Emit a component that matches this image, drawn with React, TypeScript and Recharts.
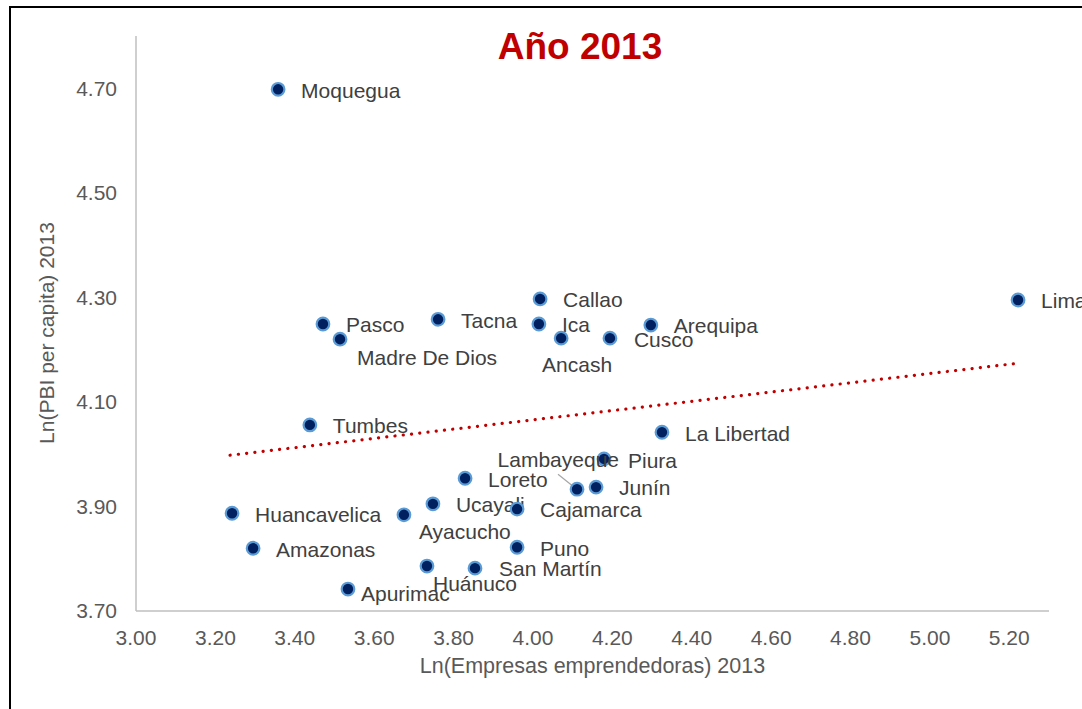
import React from "react";
import { ScatterChart, Scatter, XAxis, YAxis, ReferenceLine } from "recharts";

const regions = [
  "Moquegua", "Pasco", "Madre De Dios", "Tacna", "Callao", "Ica", "Ancash", "Cusco",
  "Arequipa", "Lima", "Tumbes", "La Libertad", "Piura", "Lambayeque", "Junín", "Loreto",
  "Ucayali", "Cajamarca", "Huancavelica", "Ayacucho", "Amazonas", "Puno", "Huánuco",
  "San Martín", "Apurimac",
];
const lnEmpresas = [
  3.358, 3.471, 3.514, 3.761, 4.018, 4.015, 4.071, 4.194,
  4.297, 5.222, 3.438, 4.325, 4.179, 4.111, 4.159, 3.829,
  3.748, 3.960, 3.242, 3.675, 3.295, 3.960, 3.733,
  3.854, 3.534,
];
const lnPbi = [
  4.698, 4.249, 4.220, 4.258, 4.297, 4.249, 4.222, 4.222,
  4.247, 4.295, 4.056, 4.042, 3.991, 3.933, 3.937, 3.954,
  3.905, 3.895, 3.887, 3.884, 3.820, 3.822, 3.786,
  3.782, 3.742,
];
const xTicks = [3.0, 3.2, 3.4, 3.6, 3.8, 4.0, 4.2, 4.4, 4.6, 4.8, 5.0, 5.2];
const yTicks = [3.7, 3.9, 4.1, 4.3, 4.5, 4.7];
const trendX = [3.237, 5.222];
const trendY = [3.998, 4.174];

const data = regions.map((name, i) => ({ name, x: lnEmpresas[i], y: lnPbi[i] }));

// label placement relative to the point (px)
const labelPos: Record<string, { dx: number; dy: number; anchor?: string; leader?: boolean }> = {
  "Madre De Dios": { dx: 17, dy: 18 },
  Ancash: { dx: 16, dy: 27, anchor: "middle" },
  Cusco: { dx: 24, dy: 2 },
  Lambayeque: { dx: 42, dy: -30, anchor: "end", leader: true },
  Ayacucho: { dx: 15, dy: 17 },
  "Huánuco": { dx: 6, dy: 18 },
  Apurimac: { dx: 13, dy: 5 },
  Piura: { dx: 24, dy: 2 },
  "San Martín": { dx: 24, dy: 1 },
};

const FONT = "'Liberation Sans', Arial, sans-serif";

const PointShape = (props: any) => {
  const { cx, cy, payload } = props;
  if (cx == null || cy == null) return null;
  const p = labelPos[payload.name] || { dx: 23, dy: 1 };
  return (
    <g>
      {p.leader && (
        <line x1={cx - 19} y1={cy - 15} x2={cx - 4} y2={cy - 3} stroke="#A6A6A6" strokeWidth={1.2} />
      )}
      <circle cx={cx} cy={cy} r={6.3} fill="#002060" stroke="#5B9BD5" strokeWidth={2.2} />
      <text
        x={cx + p.dx}
        y={cy + p.dy}
        dy="0.35em"
        textAnchor={(p.anchor as any) || "start"}
        fontFamily={FONT}
        fontSize={21}
        fill="#404040"
      >
        {payload.name}
      </text>
    </g>
  );
};

export default function App() {
  return (
    <div style={{ position: "absolute", left: 0, top: 0, width: 1082, height: 709, overflow: "hidden", background: "#fff" }}>
      <div
        style={{
          position: "absolute",
          left: 9,
          top: 6,
          width: 1200,
          height: 800,
          borderLeft: "2px solid #000",
          borderTop: "2px solid #000",
          boxSizing: "border-box",
        }}
      />
      <div style={{ position: "absolute", left: 0, top: 0 }}>
        <ScatterChart width={1082} height={709} margin={{ top: 36, right: 33, bottom: 36, left: 56 }} style={{ overflow: "visible" }}>
          <XAxis
            type="number"
            dataKey="x"
            domain={[3, 5.3]}
            ticks={xTicks}
            tickFormatter={(v: number) => v.toFixed(2)}
            height={62}
            tickLine={false}
            tickSize={0}
            tickMargin={19}
            axisLine={{ stroke: "#BFBFBF", strokeWidth: 1.5 }}
            tick={{ fill: "#595959", fontSize: 21, fontFamily: FONT }}
            label={{
              value: "Ln(Empresas emprendedoras) 2013",
              position: "insideBottom",
              offset: 0,
              fill: "#595959",
              fontSize: 21.5,
              fontFamily: FONT,
            }}
          />
          <YAxis
            type="number"
            dataKey="y"
            domain={[3.7, 4.8]}
            ticks={yTicks}
            tickFormatter={(v: number) => v.toFixed(2)}
            width={80}
            tickLine={false}
            tickSize={0}
            tickMargin={19}
            axisLine={{ stroke: "#BFBFBF", strokeWidth: 1.5 }}
            tick={{ fill: "#595959", fontSize: 21, fontFamily: FONT }}
            label={{
              content: () => (
                <text
                  x={47}
                  y={333}
                  transform="rotate(-90, 47, 333)"
                  textAnchor="middle"
                  dy="0.35em"
                  fill="#595959"
                  fontSize={21}
                  fontFamily={FONT}
                >
                  Ln(PBI per capita) 2013
                </text>
              ),
            }}
          />
          <ReferenceLine
            segment={[
              { x: trendX[0], y: trendY[0] },
              { x: trendX[1], y: trendY[1] },
            ]}
            stroke="#C00000"
            strokeWidth={3.2}
            strokeDasharray="0.1 8.2"
            strokeLinecap="round"
          />
          <Scatter data={data} shape={PointShape} isAnimationActive={false} />
        </ScatterChart>
      </div>
      <div
        style={{
          position: "absolute",
          left: 480,
          width: 200,
          top: 23,
          textAlign: "center",
          fontFamily: FONT,
          fontWeight: "bold",
          fontSize: 37,
          color: "#C00000",
          lineHeight: "48px",
        }}
      >
        Año 2013
      </div>
    </div>
  );
}
